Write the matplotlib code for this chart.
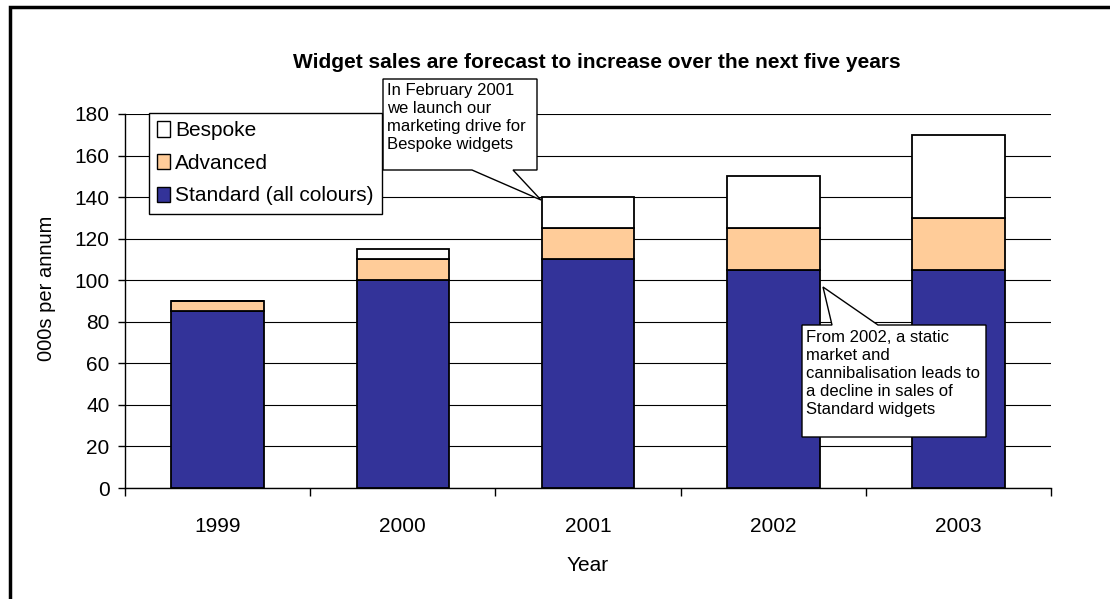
import matplotlib.pyplot as plt
from matplotlib.patches import Patch, Polygon, Rectangle

plt.rcParams['font.family'] = ['Liberation Sans', 'DejaVu Sans']

years = ['1999', '2000', '2001', '2002', '2003']
standard = [85, 100, 110, 105, 105]
advanced = [5, 10, 15, 20, 25]
bespoke = [0, 5, 15, 25, 40]

W, H = 1110, 599
fig = plt.figure(figsize=(W / 100, H / 100), dpi=100)


def px(x, y):
    # image pixel (y down) -> figure fraction
    return (x / W, 1 - y / H)


ax = fig.add_axes([125 / W, 1 - 488 / H, (1051 - 125) / W, (488 - 114) / H])

x = range(len(years))
bot2 = [s + a for s, a in zip(standard, advanced)]
ax.bar(x, standard, 0.5, color='#333399', edgecolor='black', lw=1.3, zorder=3)
ax.bar(x, advanced, 0.5, bottom=standard, color='#FFCC99', edgecolor='black', lw=1.3, zorder=3)
ax.bar(x, bespoke, 0.5, bottom=bot2, color='white', edgecolor='black', lw=1.3, zorder=3)

ax.set_xlim(-0.5, 4.5)
ax.set_ylim(0, 180)
ax.set_yticks(range(0, 181, 20))
ax.yaxis.grid(True, color='black', lw=0.8, zorder=0)
ax.set_xticks(list(x))
ax.set_xticklabels(years)
ax.set_xticks([i - 0.5 for i in range(6)], minor=True)
ax.tick_params(axis='x', which='major', length=0, pad=21, labelsize=15)
ax.tick_params(axis='x', which='minor', length=6, width=1, direction='out')
ax.tick_params(axis='y', length=5, width=1, labelsize=15, pad=6)
for s in ['top', 'right']:
    ax.spines[s].set_visible(False)
for s in ['left', 'bottom']:
    ax.spines[s].set_color('black')
    ax.spines[s].set_linewidth(1)
ax.set_xlabel('Year', fontsize=15, labelpad=14)
ax.set_ylabel('000s per annum', fontsize=14.5)
ax.yaxis.set_label_coords(-0.075, 0.535)

fig.text(*px(597, 62), 'Widget sales are forecast to increase over the next five years',
         ha='center', va='center', fontsize=15, fontweight='bold')

handles = [Patch(facecolor='white', edgecolor='black'),
           Patch(facecolor='#FFCC99', edgecolor='black'),
           Patch(facecolor='#333399', edgecolor='black')]
labels = ['Bespoke', 'Advanced', 'Standard (all colours)']
leg = fig.legend(handles, labels, loc='upper left', bbox_to_anchor=px(149, 113),
                 frameon=True, fancybox=False, edgecolor='black', framealpha=1,
                 fontsize=15, handlelength=0.6, handleheight=0.75, handletextpad=0.25,
                 labelspacing=0.65, borderpad=0.4, borderaxespad=0)
leg.get_frame().set_linewidth(1)

# outer frame of the chart object
fig.patches.append(Rectangle(px(10, 640), (1200 - 10) / W, (640 - 7) / H,
                             transform=fig.transFigure, fill=False, edgecolor='black',
                             lw=2.5, zorder=0))


def callout(verts, text, tx, ty):
    pts = [px(a, b) for a, b in verts]
    fig.patches.append(Polygon(pts, closed=True, transform=fig.transFigure,
                               facecolor='white', edgecolor='black', lw=1, zorder=5))
    fig.text(*px(tx, ty), text, ha='left', va='top', fontsize=12,
             linespacing=1.25, zorder=6)


callout([(383, 79), (537, 79), (537, 170), (513, 170), (541, 200), (472, 170), (383, 170)],
        'In February 2001\nwe launch our\nmarketing drive for\nBespoke widgets', 387, 83)
callout([(802, 325), (832, 325), (823, 287), (878, 325), (986, 325), (986, 437), (802, 437)],
        'From 2002, a static\nmarket and\ncannibalisation leads to\na decline in sales of\nStandard widgets', 806, 330)

fig.savefig('out.png', dpi=100)
